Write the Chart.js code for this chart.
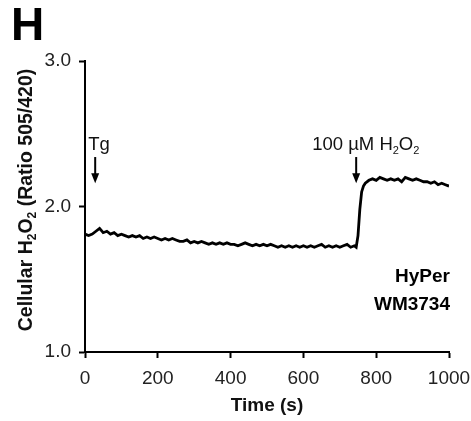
<!DOCTYPE html>
<html>
<head>
<meta charset="utf-8">
<script src="https://cdn.jsdelivr.net/npm/chart.js@4"></script>
<style>
html,body{margin:0;padding:0;background:#fff;}
#wrap{width:471px;height:421px;position:relative;}
</style>
</head>
<body>
<div id="wrap"><canvas id="c" width="471" height="421"></canvas></div>
<script>
// ---- data ----
const timeS = [0,10,20,30,40,50,60,70,80,90,100,110,120,130,140,150,160,170,180,190,200,210,220,230,240,250,260,270,280,290,300,310,320,330,340,350,360,370,380,390,400,410,420,430,440,450,460,470,480,490,500,510,520,530,540,550,560,570,580,590,600,610,620,630,640,650,660,670,680,690,700,710,720,730,740,745,750,755,760,765,770,780,790,800,810,820,830,840,850,860,870,880,890,900,910,920,930,940,950,960,970,980,990,1000];
const ratio = [1.81,1.80,1.81,1.83,1.85,1.82,1.83,1.81,1.82,1.80,1.81,1.80,1.79,1.80,1.79,1.80,1.78,1.79,1.78,1.79,1.78,1.77,1.78,1.77,1.78,1.77,1.76,1.76,1.77,1.75,1.76,1.75,1.76,1.75,1.74,1.75,1.74,1.75,1.74,1.75,1.74,1.74,1.73,1.74,1.75,1.74,1.73,1.74,1.73,1.74,1.73,1.74,1.73,1.72,1.73,1.72,1.73,1.72,1.73,1.72,1.73,1.72,1.73,1.72,1.73,1.74,1.72,1.73,1.72,1.73,1.72,1.73,1.74,1.72,1.73,1.72,1.80,1.98,2.10,2.14,2.16,2.18,2.19,2.18,2.20,2.19,2.18,2.19,2.18,2.19,2.17,2.20,2.19,2.18,2.19,2.18,2.17,2.17,2.16,2.17,2.15,2.16,2.15,2.14];
const yTicks = [1.0, 2.0, 3.0];
const xTicks = [0, 200, 400, 600, 800, 1000];
const eventTimes = [28, 745];
const eventLabels = [[["Tg",false]], [["100 µM H",false],["2",true],["O",false],["2",true]]];
const arrowTop = 2.34, arrowBottom = 2.16;
const panelLetter = "H";
const yTitle = [["Cellular H",false],["2",true],["O",false],["2",true],[" (Ratio 505/420)",false]];
const xTitle = "Time (s)";
const legendLines = ["HyPer", "WM3734"];

const FONT = "'Liberation Sans', Arial, Helvetica, sans-serif";

function drawSubText(ctx, parts, x, y, size, bold, align) {
  const base = (bold ? "bold " : "") + size + "px " + FONT;
  const sub = (bold ? "bold " : "") + Math.round(size*0.6) + "px " + FONT;
  let total = 0;
  parts.forEach(p => { ctx.font = p[1] ? sub : base; total += ctx.measureText(p[0]).width; });
  let cx = align === "center" ? x - total/2 : (align === "right" ? x - total : x);
  ctx.textAlign = "left";
  ctx.textBaseline = "alphabetic";
  parts.forEach(p => {
    ctx.font = p[1] ? sub : base;
    ctx.fillText(p[0], cx, p[1] ? y + size*0.22 : y);
    cx += ctx.measureText(p[0]).width;
  });
}

const overlay = {
  id: 'overlay',
  afterDraw(chart) {
    const ctx = chart.ctx;
    const xs = chart.scales.x, ys = chart.scales.y;
    ctx.save();
    ctx.fillStyle = "#000";
    // panel letter
    ctx.font = "bold 46px " + FONT;
    ctx.textAlign = "left"; ctx.textBaseline = "alphabetic";
    ctx.fillText(panelLetter, 11, 40);
    // y title rotated
    ctx.save();
    ctx.translate(32, 200);
    ctx.rotate(-Math.PI/2);
    ctx.fillStyle = "#111";
    drawSubText(ctx, yTitle, 0, 0, 19.5, true, "center");
    ctx.restore();
    // events
    eventTimes.forEach((t, i) => {
      const px = xs.getPixelForValue(t);
      const y1 = ys.getPixelForValue(arrowTop), y2 = ys.getPixelForValue(arrowBottom);
      ctx.strokeStyle = "#000"; ctx.lineWidth = 2;
      ctx.beginPath(); ctx.moveTo(px, y1); ctx.lineTo(px, y2 - 7); ctx.stroke();
      ctx.beginPath(); ctx.moveTo(px - 4, y2 - 10); ctx.lineTo(px + 4, y2 - 10); ctx.lineTo(px, y2); ctx.closePath(); ctx.fill();
      ctx.fillStyle = "#111";
      const lx = i === 0 ? px - 7 : px - 44;
      drawSubText(ctx, eventLabels[i], lx, 150, 18.5, false, "left");
      ctx.fillStyle = "#000";
    });
    // legend text
    ctx.font = "bold 19px " + FONT;
    ctx.textAlign = "right"; ctx.textBaseline = "alphabetic";
    ctx.fillText(legendLines[0], 450, 282);
    ctx.fillText(legendLines[1], 450, 310);
    ctx.restore();
  }
};

new Chart(document.getElementById('c'), {
  type: 'line',
  data: {
    datasets: [{
      data: timeS.map((t, i) => ({x: t, y: ratio[i]})),
      borderColor: '#000',
      borderWidth: 2.8,
      pointRadius: 0,
      tension: 0,
      fill: false
    }]
  },
  options: {
    responsive: false,
    animation: false,
    devicePixelRatio: 1,
    layout: { padding: { left: 0, right: 22, top: 61, bottom: 0 } },
    plugins: { legend: { display: false }, tooltip: { enabled: false } },
    scales: {
      x: {
        type: 'linear', min: 0, max: 1000,
        afterFit(s) { s.height = 69; s.paddingRight = 0; s.paddingLeft = 0; },
        afterBuildTicks(s) { s.ticks = xTicks.map(v => ({value: v})); },
        border: { color: '#000', width: 2 },
        grid: { drawOnChartArea: false, drawTicks: true, tickLength: 6, tickColor: '#000', tickWidth: 2 },
        ticks: { color: '#222', font: { family: FONT, size: 19 }, padding: 9, maxRotation: 0, callback: v => String(v) },
        title: { display: true, text: xTitle, color: '#111', font: { family: FONT, size: 19, weight: 'bold' }, padding: { top: 5 } }
      },
      y: {
        min: 1, max: 3,
        afterFit(s) { s.width = 85; s.paddingTop = 0; s.paddingBottom = 0; },
        afterBuildTicks(s) { s.ticks = yTicks.map(v => ({value: v})); },
        border: { color: '#000', width: 2 },
        grid: { drawOnChartArea: false, drawTicks: true, tickLength: 6, tickColor: '#000', tickWidth: 2 },
        ticks: { color: '#222', font: { family: FONT, size: 19 }, padding: 8, callback: v => v.toFixed(1) }
      }
    }
  },
  plugins: [overlay]
});
</script>
</body>
</html>
